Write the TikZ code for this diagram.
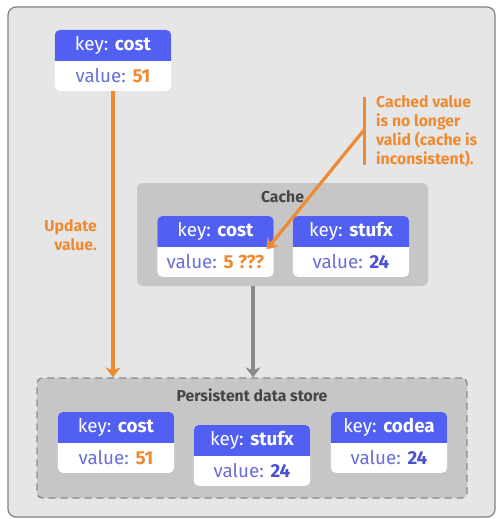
\documentclass[tikz,border=0pt]{standalone}
\usepackage{fontspec}
\setmainfont{Fira Sans}
\usetikzlibrary{arrows.meta}
\definecolor{panelbg}{HTML}{E6E6E6}
\definecolor{panelline}{HTML}{808080}
\definecolor{innerbg}{HTML}{C6C6C6}
\definecolor{hdr}{HTML}{5160F2}
\definecolor{valc}{HTML}{6A6ED8}
\definecolor{numc}{HTML}{4B52D1}
\definecolor{orng}{HTML}{EE8B32}
\definecolor{grayarrow}{HTML}{8A8A8A}
\definecolor{labelc}{HTML}{454545}
\pgfdeclarelayer{panel}
\pgfdeclarelayer{boxbg}
\pgfsetlayers{panel,boxbg,main}
\tikzset{
  boxfont/.style={font=\fontsize{18.8}{21}\selectfont},
  labfont/.style={font=\fontsize{15.8}{19}\selectfont\bfseries},
  keyhead/.style={boxfont, anchor=north, minimum width=116pt, minimum height=30pt, inner sep=0pt, text=white},
  valbody/.style={boxfont, anchor=north, minimum width=116pt, minimum height=30pt, inner sep=0pt, text=valc},
  innerpanel/.style={fill=innerbg, rounded corners=6pt, inner sep=0pt},
  paneltitle/.style={labfont, text=labelc, inner sep=0pt},
  notetext/.style={labfont, text=orng, inner sep=0pt},
  orngarrow/.style={draw=orng, line width=4pt, -{Stealth[width=15pt,length=10pt,inset=3pt]}},
  grayarr/.style={draw=grayarrow, line width=4pt, -{Stealth[width=15pt,length=10pt,inset=3pt]}},
}
\newcommand\kvpair[5]{%
  \node[keyhead] (#1k) at (#2,#3) {key: \textbf{#4}};
  \node[valbody] (#1v) at (#1k.south) {value: #5};
  \begin{pgfonlayer}{boxbg}
    \fill[white, rounded corners=5pt] (#1k.north west) rectangle (#1v.south east);
    \begin{scope}
      \clip (#1k.north west) rectangle (#1k.south east);
      \fill[hdr, rounded corners=5pt] (#1k.north west) rectangle ([yshift=-8pt]#1k.south east);
    \end{scope}
  \end{pgfonlayer}
}
\begin{document}
\begin{tikzpicture}[x=1pt,y=-1pt]
\useasboundingbox (0,0) rectangle (495,519);
\begin{pgfonlayer}{panel}
  \draw[draw=panelline, fill=panelbg, line width=1.2pt, rounded corners=8pt] (8,7) rectangle (495,517);
  \node[innerpanel, minimum width=291pt, minimum height=103pt] (cache) at (282.5,234.5) {};
  \node[innerpanel, draw=grayarrow, dashed, dash pattern=on 7pt off 5pt, line width=1.3pt, rounded corners=5pt, minimum width=430pt, minimum height=120pt] (pds) at (252,438) {};
\end{pgfonlayer}
\node[paneltitle] (cachet) at (282.5,197) {Cache};
\node[paneltitle] (pdst) at (252,395) {Persistent data store};
% top pair
\kvpair{top}{113}{30}{cost}{\textbf{\color{orng}51}}
% cache pairs
\kvpair{cc}{215.5}{216}{cost}{\textbf{\color{orng}5 ???}}
\kvpair{cs}{351}{216}{stufx}{\textbf{\color{numc}24}}
% persistent pairs
\kvpair{pc}{116}{412}{cost}{\textbf{\color{orng}51}}
\kvpair{ps}{252}{425}{stufx}{\textbf{\color{numc}24}}
\kvpair{pa}{389}{412}{codea}{\textbf{\color{numc}24}}
% update arrow
\node[notetext, anchor=north east, align=right] (upd) at (97,219) {Update\\value.};
\draw[orngarrow] (topv.south) -- (topv.south |- pds.north);
% cache to store
\draw[grayarr] ([xshift=-29.5pt]cache.south) -- ([xshift=-29.5pt]cache.south |- pds.north);
% note
\node[notetext, anchor=north west, align=left] (note) at (376,95) {Cached value\\is no longer\\valid (cache is\\inconsistent).};
\coordinate (bartop) at (364,97);
\coordinate (barbot) at (364,165);
\coordinate (barmid) at (364,130);
\draw[draw=orng, line width=3pt] (bartop) -- (barbot);
\draw[orngarrow, line width=3.2pt] (barmid) -- ([xshift=-7pt,yshift=-3pt]ccv.north east);
\end{tikzpicture}
\end{document}
